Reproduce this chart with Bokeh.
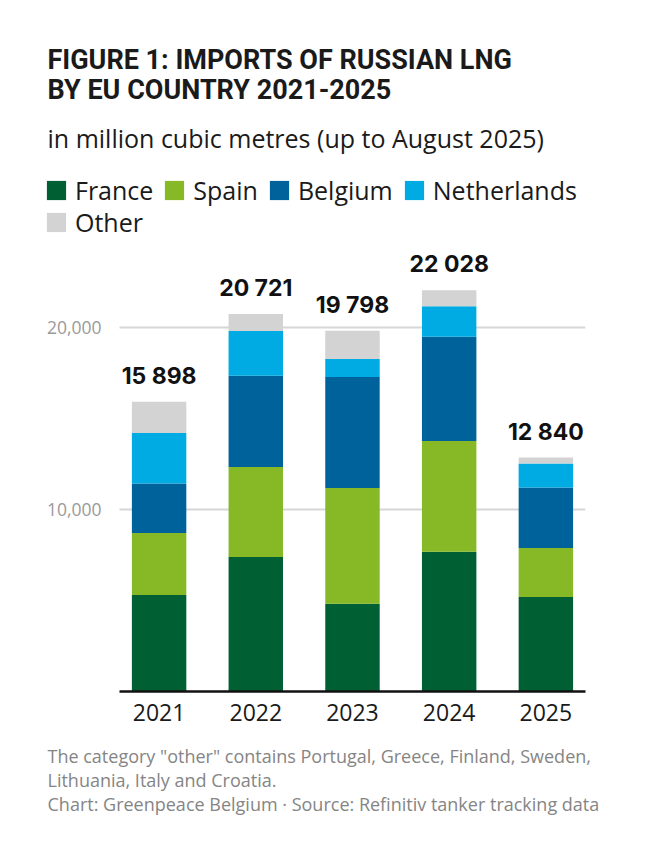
from bokeh.plotting import figure
from bokeh.models import (ColumnDataSource, Range1d, FixedTicker, NumeralTickFormatter,
                          Legend, LegendItem, Title)
from bokeh.core.properties import value
from bokeh.embed import file_html
from bokeh.resources import INLINE

# ---- data (million cubic metres) ----
years = ["2021", "2022", "2023", "2024", "2025"]
series_names = ["France", "Spain", "Belgium", "Netherlands", "Other"]
france = [5300, 7380, 4820, 7670, 5190]
spain = [3400, 4940, 6350, 6080, 2690]
belgium = [2710, 5010, 6090, 5720, 3310]
netherlands = [2780, 2460, 990, 1670, 1330]
other = [1708, 931, 1548, 888, 320]
totals = [15898, 20721, 19798, 22028, 12840]
y_ticks = [10000, 20000]

title_text = "FIGURE 1: IMPORTS OF RUSSIAN LNG\nBY EU COUNTRY 2021-2025"
subtitle = "in million cubic metres (up to August 2025)"
note_line1 = 'The category "other" contains Portugal, Greece, Finland, Sweden,'
note_line2 = "Lithuania, Italy and Croatia."
credit = "Chart: Greenpeace Belgium \u00b7 Source: Refinitiv tanker tracking data"

colors = ["#005f33", "#86b925", "#00629a", "#00abe4", "#d3d3d3"]

BODY = "Open Sans"
TITLE_FONT = "Roboto"
W, H = 644, 850
FL, FR = 46, 585           # frame left / right (px); frame includes the legend area
AXL = 119                  # left end of the category axis / grid (px)
FT, FB = 167, 691          # frame top / bottom (px)
PX_PER_UNIT = 0.01822      # px per million m3
PX_PER_CAT = 96.75         # px between bars

x_lo = -0.41
x_hi = len(years) - 1 + 0.41
x_start = x_lo - (AXL - FL) / PX_PER_CAT

xs = list(range(len(years)))
source = ColumnDataSource(dict(
    x=xs, year=years, France=france, Spain=spain, Belgium=belgium,
    Netherlands=netherlands, Other=other, total=totals,
    label=[f"{t:,}".replace(",", " ") for t in totals],
))

p = figure(width=W, height=H, title=None, output_backend="svg", toolbar_location=None,
           x_range=Range1d(x_start, x_hi),
           y_range=Range1d(0, (FB - FT) / PX_PER_UNIT),
           min_border_left=FL, min_border_right=W - FR, min_border_top=FT,
           min_border_bottom=H - FB)
p.outline_line_color = None
p.background_fill_color = "white"
p.border_fill_color = "white"

# grid lines only over the bar area
p.xgrid.grid_line_color = None
grid_ok = True
try:
    p.ygrid.cross_bounds = (x_lo, x_hi)
except Exception:
    grid_ok = False
if grid_ok:
    p.ygrid.grid_line_color = "#d6d6d6"
    p.ygrid.grid_line_width = 2
else:
    p.ygrid.grid_line_color = None
    p.segment(x0=[x_lo] * len(y_ticks), x1=[x_hi] * len(y_ticks), y0=y_ticks, y1=y_ticks,
              line_color="#d6d6d6", line_width=2)

renderers = p.vbar_stack(series_names, x="x", width=0.563, fill_color=colors,
                         line_color=None, source=source)

p.text(x="x", y="total", text="label", source=source, text_align="center",
       text_baseline="alphabetic", y_offset=-26, text_font=value("Inter"),
       text_font_style="bold", text_font_size="23px", text_color="#111111")

# axes
p.xaxis.ticker = FixedTicker(ticks=xs)
p.xaxis.bounds = (x_lo, x_hi)
p.xaxis.major_label_overrides = {i: y for i, y in enumerate(years)}
p.xaxis.axis_line_color = "#111111"
p.xaxis.axis_line_width = 2.5
p.xaxis.major_tick_line_color = None
p.xaxis.minor_tick_line_color = None
p.xaxis.major_label_text_font = BODY
p.xaxis.major_label_text_font_size = "23px"
p.xaxis.major_label_text_color = "#1a1a1a"
p.xaxis.major_label_standoff = 6

p.yaxis.ticker = FixedTicker(ticks=y_ticks)
p.yaxis.formatter = NumeralTickFormatter(format="0,0")
p.yaxis.axis_line_color = None
p.yaxis.major_tick_line_color = None
p.yaxis.minor_tick_line_color = None
p.yaxis.major_label_text_font = BODY
p.yaxis.major_label_text_font_size = "17.5px"
p.yaxis.major_label_text_color = "#9a9a9a"
p.yaxis.major_label_standoff = -(107 - FL)   # labels sit right of the frame edge

# ---- legends inside the frame (top-left): one row of four, then "Other" ----
def make_legend(names, rends, vy):
    return Legend(items=[LegendItem(label=n, renderers=[r]) for n, r in zip(names, rends)],
                  location=(-2, vy), orientation="horizontal",
                  glyph_width=24, glyph_height=24, label_standoff=7, spacing=9,
                  padding=0, margin=0, border_line_color=None, background_fill_alpha=0,
                  label_text_font=BODY, label_text_font_size="25px",
                  label_text_color="#1a1a1a")

p.add_layout(make_legend(series_names[:4], renderers[:4], FB - 206.5))
p.add_layout(make_legend(series_names[4:], renderers[4:], FB - 239))

# ---- above: subtitle (closest), title ----
p.add_layout(Title(text=subtitle, align="left", offset=47 - FL, standoff=25,
                   text_font=BODY, text_font_size="25px", text_font_style="normal",
                   text_color="#1a1a1a"), "above")
p.add_layout(Title(text=title_text, align="left", offset=47 - FL, standoff=0,
                   text_font=TITLE_FONT, text_font_size="27px", text_font_style="bold",
                   text_color="#1a1a1a", text_line_height=0.95), "above")

# ---- below: footer (one three-line block) ----
FOOT = "#858585"
p.add_layout(Title(text="\n".join([note_line1, note_line2, credit]), align="left",
                   offset=47 - FL, standoff=41, vertical_align="top",
                   text_font=BODY, text_font_size="18px", text_font_style="normal",
                   text_color=FOOT, text_line_height=1.0), "below")

open("out.html", "w").write(file_html(p, INLINE))
